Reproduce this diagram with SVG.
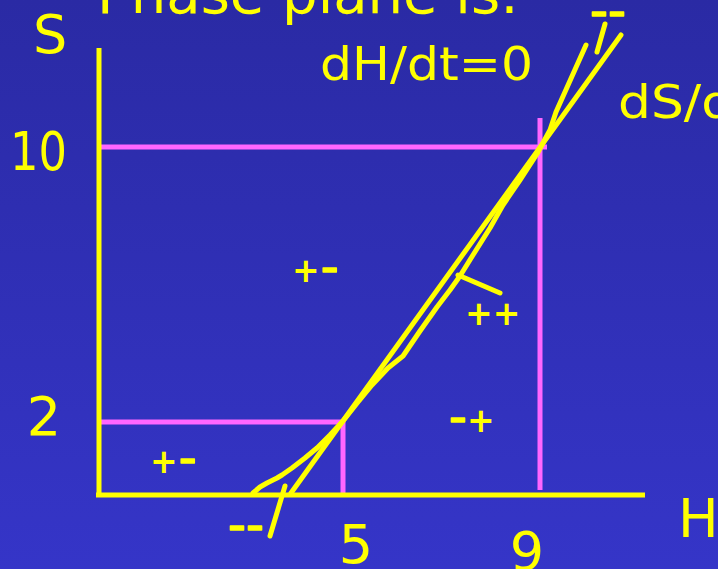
<svg xmlns="http://www.w3.org/2000/svg" width="718" height="569" viewBox="0 0 718 569">
<defs>
<linearGradient id="bg" x1="0" y1="0" x2="0" y2="1">
<stop offset="0" stop-color="#2a2aa4"/>
<stop offset="1" stop-color="#3535c8"/>
</linearGradient>
</defs>
<style>
.t{font-family:"DejaVu Sans","Liberation Sans",sans-serif;fill:#ffff00}
.big{font-size:54px}
.mid{font-size:47px}
.sgn{font-size:33px;font-weight:bold}
.hy{font-size:50px;font-weight:normal;stroke:#ffff00;stroke-width:1.4;stroke-linejoin:round}
.ax{stroke:#ffff00;stroke-width:5;fill:none}
.pk{stroke:#ff66ff;stroke-width:5;fill:none}
.cv{stroke:#ffff00;stroke-width:5;fill:none;stroke-linejoin:round;stroke-linecap:round}
</style>
<rect width="718" height="569" fill="url(#bg)"/>
<text class="t" x="97" y="13" style="font-size:56px" textLength="422" lengthAdjust="spacingAndGlyphs">Phase plane is:</text>
<g id="guides">
<line class="pk" x1="100" y1="147" x2="547" y2="147"/>
<line class="pk" x1="540" y1="118" x2="540" y2="490"/>
<line class="pk" x1="99" y1="422" x2="345" y2="422"/>
<line class="pk" x1="343" y1="422" x2="343" y2="494"/>
</g>
<g id="axes">
<line class="ax" x1="99" y1="48" x2="99" y2="497"/>
<line class="ax" x1="96" y1="495" x2="645" y2="495"/>
</g>
<g id="nullclines">
<path id="dSdt" class="cv" d="M291,493 L621,35"/>
<path id="dHdt" class="cv" d="M253,493 L260,487 L267,483 L277,478 L282,475 L292,468 L305,458 L317,448 L330,435 L343,421 L358,402 L372,385 L388,368 L403,356 L420,331 L437,307 L450,290 L460,276 L473,255 L490,228 L503,205 L520,180 L537,154 L550,130 L556,112 L586,45"/>
<path class="cv" d="M458,275 L500,293"/>
<path class="cv" d="M605,24 L597,52"/>
<path class="cv" d="M285,486 L270,536"/>
</g>
<g id="labels">
<text class="t big" x="33" y="53">S</text>
<text class="t big" x="10" y="170" textLength="57" lengthAdjust="spacingAndGlyphs">10</text>
<text class="t big" x="44" y="435" text-anchor="middle">2</text>
<text class="t big" x="356" y="563" text-anchor="middle">5</text>
<text class="t big" x="527" y="570" text-anchor="middle">9</text>
<text class="t big" x="678" y="537">H</text>
<text class="t mid" x="320" y="80" textLength="213" lengthAdjust="spacingAndGlyphs">dH/dt=0</text>
<text class="t mid" x="618" y="118" textLength="213" lengthAdjust="spacingAndGlyphs">dS/dt=0</text>
</g>
<g id="signs">
<text class="t sgn" x="292" y="282">+<tspan class="hy" dx="1" dy="2">-</tspan></text>
<text class="t sgn" x="465" y="325">++</text>
<text class="t sgn" x="449" y="432"><tspan class="hy" dy="2">-</tspan><tspan dy="-2">+</tspan></text>
<text class="t sgn" x="150" y="473">+<tspan class="hy" dx="1" dy="2">-</tspan></text>
<text class="t sgn hy" x="228" y="542">--</text>
<text class="t sgn hy" x="590" y="28">--</text>
</g>
</svg>
